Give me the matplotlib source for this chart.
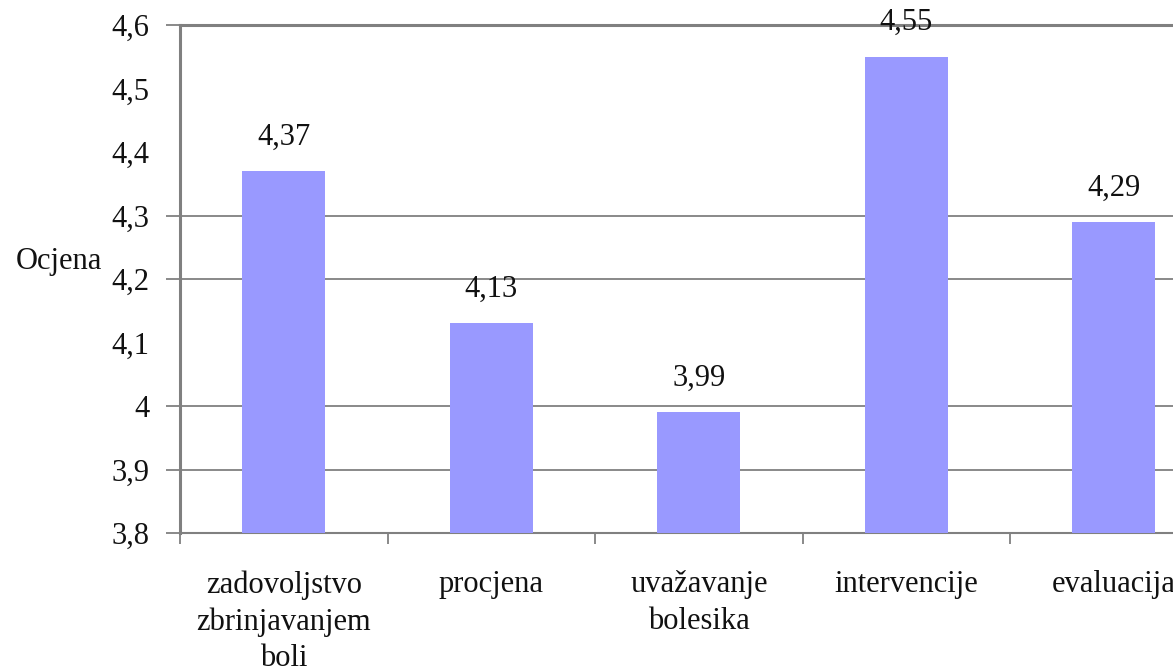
import matplotlib.pyplot as plt

plt.rcParams['font.family'] = ['Liberation Serif', 'DejaVu Serif']

categories = ['zadovoljstvo\nzbrinjavanjem\nboli', 'procjena', 'uvažavanje\nbolesika',
              'intervencije', 'evaluacija']
values = [4.37, 4.13, 3.99, 4.55, 4.29]
value_labels = ['4,37', '4,13', '3,99', '4,55', '4,29']

y_ticks = [3.8, 3.9, 4.0, 4.1, 4.2, 4.3, 4.4, 4.5, 4.6]
y_tick_labels = ['3,8', '3,9', '4', '4,1', '4,2', '4,3', '4,4', '4,5', '4,6']
grid_levels = [3.8, 3.9, 4.0, 4.2, 4.3, 4.6]  # lines that show in the picture

bar_color = '#9999ff'
line_color = '#808080'
fs = 22

fig = plt.figure(figsize=(11.73, 6.67), dpi=100)
ax = fig.add_axes([0.1535, 0.2009, 0.8845, 0.7616])

x = list(range(len(categories)))
ax.bar(x, values, width=0.4, color=bar_color, zorder=3)

ax.set_ylim(3.8, 4.6)
ax.set_xlim(-0.5, len(categories) - 0.5)

# y axis: labels on all major ticks, marks + grid only where visible
ax.yaxis.remove_overlapping_locs = False
ax.set_yticks(y_ticks, y_tick_labels)
ax.tick_params(axis='y', which='major', length=0, pad=22, labelsize=fs, labelcolor='#111111')
ax.set_yticks(grid_levels, minor=True)
ax.tick_params(axis='y', which='minor', length=10, width=1.3, color=line_color)
ax.yaxis.grid(True, which='minor', color=line_color, lw=1.3, zorder=0)

# x axis: category labels centred, tick marks at the boundaries
ax.xaxis.remove_overlapping_locs = False
ax.set_xticks(x, categories)
ax.tick_params(axis='x', which='major', length=0, pad=27, labelsize=fs, labelcolor='#111111')
for lab in ax.get_xticklabels():
    lab.set_linespacing(1.33)
    lab.set_verticalalignment('top')
ax.set_xticks([i - 0.5 for i in range(len(categories) + 1)], minor=True)
ax.tick_params(axis='x', which='minor', length=8, width=1.3, color=line_color)
ax.set_axisbelow(True)

for sp in ['left', 'top']:
    ax.spines[sp].set_color(line_color)
    ax.spines[sp].set_linewidth(2.2)
ax.spines['bottom'].set_color(line_color)
ax.spines['bottom'].set_linewidth(1.5)
ax.spines['right'].set_visible(False)

for xi, v, lab in zip(x, values, value_labels):
    ax.annotate(lab, (xi, v), xytext=(0, 14), textcoords='offset points',
                ha='center', va='bottom', fontsize=fs, color='#111111',
                annotation_clip=False)

fig.text(102 / 1173, 1 - 262 / 667, 'Ocjena', ha='right', va='center',
         fontsize=fs, color='#111111')

fig.savefig('out.png', dpi=100)
